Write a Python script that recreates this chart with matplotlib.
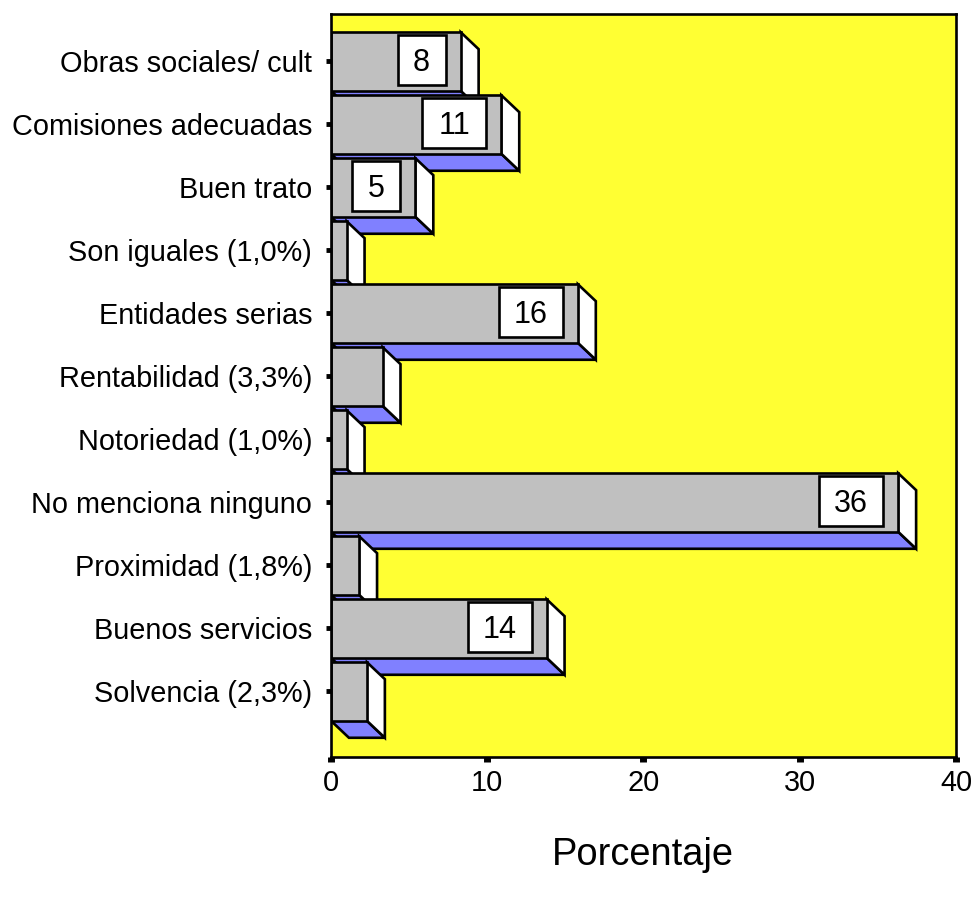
import matplotlib
matplotlib.use("Agg")
import matplotlib.pyplot as plt
from matplotlib.patches import Polygon, Rectangle

plt.rcParams['font.family'] = ['Liberation Sans', 'DejaVu Sans']

categories = [
    "Obras sociales/ cult",
    "Comisiones adecuadas",
    "Buen trato",
    "Son iguales (1,0%)",
    "Entidades serias",
    "Rentabilidad (3,3%)",
    "Notoriedad (1,0%)",
    "No menciona ninguno",
    "Proximidad (1,8%)",
    "Buenos servicios",
    "Solvencia (2,3%)",
]
values = [8.3, 10.9, 5.4, 1.0, 15.8, 3.3, 1.0, 36.3, 1.8, 13.8, 2.3]
labelled = [True, True, True, False, True, False, False, True, False, True, False]
xticks = [0, 10, 20, 30, 40]

FRONT = "#c0c0c0"
SIDE = "#ffffff"
BOTTOM = "#8080ff"
BG = "#ffff33"
EDGE = "black"
LW = 1.9

fig = plt.figure(figsize=(9.72, 9.0), dpi=100)
ax = fig.add_axes([0.3405, 0.1589, 0.643, 0.8256])
ax.set_facecolor(BG)
ax.set_xlim(0, 40)
ax.set_ylim(11.04, -0.754)

h = 0.93      # front face thickness
dx = 1.15     # depth offset along x
dy = 0.27     # depth offset along y

for i, (v, show) in enumerate(zip(values, labelled)):
    yt = i - h / 2
    yb = i + h / 2
    bottom = Polygon([(0, yb), (v, yb), (v + dx, yb + dy), (dx, yb + dy)],
                     closed=True, facecolor=BOTTOM, edgecolor=EDGE, lw=LW, zorder=2 + i)
    side = Polygon([(v, yt), (v + dx, yt + dy), (v + dx, yb + dy), (v, yb)],
                   closed=True, facecolor=SIDE, edgecolor=EDGE, lw=LW, zorder=2 + i)
    front = Rectangle((0, yt), v, h, facecolor=FRONT, edgecolor=EDGE, lw=LW, zorder=2 + i)
    for p in (bottom, side, front):
        ax.add_patch(p)
    if show:
        txt = f"{v:.0f}"
        bw = 4.1 if len(txt) > 1 else 3.08
        bh = 0.79
        x1 = v - 0.96
        box = Rectangle((x1 - bw, i - bh / 2 - 0.02), bw, bh, facecolor="white",
                        edgecolor=EDGE, lw=LW, zorder=2 + i)
        ax.add_patch(box)
        ax.text(x1 - bw / 2, i + 0.03, txt, ha="center", va="center",
                fontsize=22, zorder=3 + i)

ax.set_yticks(range(len(categories)))
ax.set_yticklabels(categories, fontsize=20.8)
ax.set_xticks(xticks)
ax.set_xticklabels([str(t) for t in xticks], fontsize=20.8)
ax.tick_params(axis="y", length=3.5, width=3.5, pad=10, direction="out")
ax.tick_params(axis="x", length=3.5, width=5, pad=5, direction="out")
for s in ax.spines.values():
    s.set_linewidth(1.9)
    s.set_zorder(30)

fig.text(0.6615, 0.05, "Porcentaje", ha="center", va="center", fontsize=27.4)

fig.savefig("out.png", dpi=100, facecolor="white")
